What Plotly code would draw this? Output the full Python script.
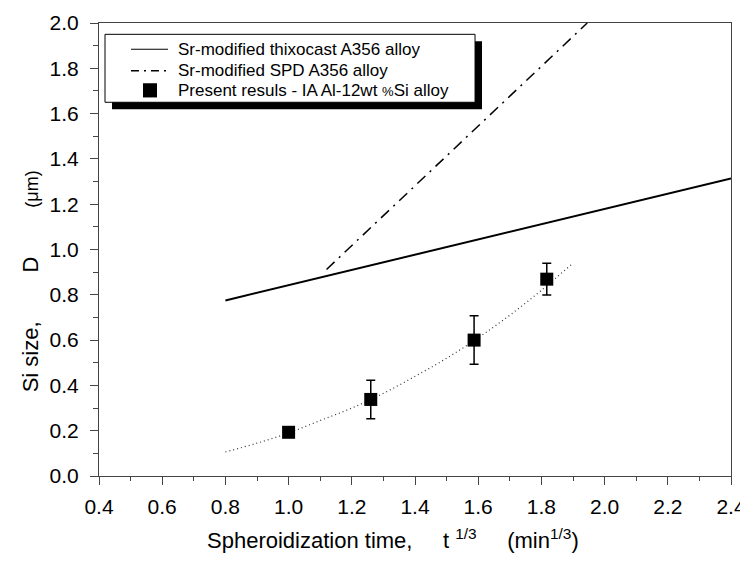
import plotly.graph_objects as go

# --- data ---
thixo_x = [0.8, 2.4]
thixo_y = [0.775, 1.314]

spd_x = [1.12, 1.945]
spd_y = [0.912, 2.0]

pts_x = [1.0, 1.26, 1.587, 1.817]
pts_y = [0.193, 0.338, 0.600, 0.869]
pts_err = [0.02, 0.085, 0.107, 0.07]

fit_x = [0.8, 0.9, 1.0, 1.1, 1.2, 1.3, 1.4, 1.5, 1.6, 1.7, 1.8, 1.9]
fit_y = [0.106, 0.145, 0.19, 0.245, 0.30, 0.365, 0.44, 0.52, 0.61, 0.71, 0.82, 0.94]

x_ticks = [0.4, 0.6, 0.8, 1.0, 1.2, 1.4, 1.6, 1.8, 2.0, 2.2, 2.4]
y_ticks = [0.0, 0.2, 0.4, 0.6, 0.8, 1.0, 1.2, 1.4, 1.6, 1.8, 2.0]

legend_labels = [
    "Sr-modified thixocast A356 alloy",
    "Sr-modified SPD A356 alloy",
    'Present resuls - IA Al-12wt <span style="font-size:13px">%</span>Si alloy',
]

FONT = "Liberation Sans, Arial, sans-serif"
SPD_DASH = "11px,6px,2px,6px"

fig = go.Figure()

fig.add_trace(go.Scatter(
    x=thixo_x, y=thixo_y, mode="lines",
    line=dict(color="black", width=2),
    name=legend_labels[0], showlegend=False))

fig.add_trace(go.Scatter(
    x=spd_x, y=spd_y, mode="lines",
    line=dict(color="black", width=1.5, dash=SPD_DASH),
    name=legend_labels[1], showlegend=False))

fig.add_trace(go.Scatter(
    x=fit_x, y=fit_y, mode="lines", line_shape="spline",
    line=dict(color="#333333", width=1.2, dash="1px,3px"),
    showlegend=False, hoverinfo="skip"))

fig.add_trace(go.Scatter(
    x=pts_x, y=pts_y, mode="markers",
    marker=dict(symbol="square", size=13, color="black"),
    error_y=dict(type="data", array=pts_err, visible=True,
                 color="black", thickness=1.5, width=4.5),
    name=legend_labels[2], showlegend=False))

axis_common = dict(
    showline=True, linecolor="#444444", linewidth=1, mirror=True,
    showgrid=False, zeroline=False, automargin=False,
    ticks="outside", ticklen=8, tickwidth=1, tickcolor="#444444",
    tickfont=dict(family=FONT, size=21, color="black"),
    tickformat=".1f",
)

fig.update_xaxes(range=[0.4, 2.4], tickvals=x_ticks, ticklabelstandoff=4,
                 minor=dict(ticks="outside", ticklen=4, dtick=0.1, tick0=0.4, tickcolor="#444444"),
                 **axis_common)
fig.update_yaxes(range=[0.0, 2.0], tickvals=y_ticks, ticklabelstandoff=7,
                 minor=dict(ticks="outside", ticklen=5, dtick=0.1, tick0=0.0, tickcolor="#444444"),
                 **axis_common)

# axis titles as annotations (offset like the original)
NB = "\u00a0"
fig.add_annotation(
    xref="paper", yref="paper", x=0.465, y=-0.14, xanchor="center", yanchor="middle",
    text="Spheroidization time," + NB * 5 + "t <sup>1/3</sup>" + NB * 5 + "(min<sup>1/3</sup>)",
    showarrow=False, font=dict(family=FONT, size=22, color="black"))
fig.add_annotation(
    xref="paper", yref="paper", x=-0.109, y=0.43, xanchor="center", yanchor="middle",
    textangle=-90,
    text="Si size," + NB * 8 + "D" + NB * 8 + '<span style="font-size:18px">(\u03bcm)</span>',
    showarrow=False, font=dict(family=FONT, size=22, color="black"))

# --- legend box drawn like the original (box with drop shadow) ---
fig.add_shape(type="rect", xref="paper", yref="paper",
              x0=0.0206, x1=0.606, y0=0.8096, y1=0.9596,
              fillcolor="black", line=dict(width=0), layer="above")
fig.add_shape(type="rect", xref="paper", yref="paper",
              x0=0.0095, x1=0.595, y0=0.825, y1=0.975,
              fillcolor="white", line=dict(color="black", width=1), layer="above")
fig.add_shape(type="line", xref="paper", yref="paper",
              x0=0.0506, x1=0.1092, y0=0.942, y1=0.942,
              line=dict(color="black", width=1.2), layer="above")
fig.add_shape(type="line", xref="paper", yref="paper",
              x0=0.0506, x1=0.1092, y0=0.8945, y1=0.8945,
              line=dict(color="black", width=1.5, dash="8px,5px,2px,5px"), layer="above")
fig.add_shape(type="rect", xref="paper", yref="paper",
              x0=0.0696, x1=0.0918, y0=0.8357, y1=0.867,
              fillcolor="black", line=dict(width=0), layer="above")
for lab, yy in zip(legend_labels, [0.942, 0.8945, 0.8515]):
    fig.add_annotation(xref="paper", yref="paper", x=0.1218, y=yy,
                       xanchor="left", yanchor="middle", text=lab, showarrow=False,
                       font=dict(family=FONT, size=17, color="black"))

# the page body has an 8px margin, so the figure is sized to fill 748x562 from there
fig.update_layout(
    width=740, height=554,
    margin=dict(l=91, r=17, t=15, b=86, autoexpand=False),
    paper_bgcolor="white", plot_bgcolor="white",
    showlegend=False,
)

fig.write_html("out.html")
